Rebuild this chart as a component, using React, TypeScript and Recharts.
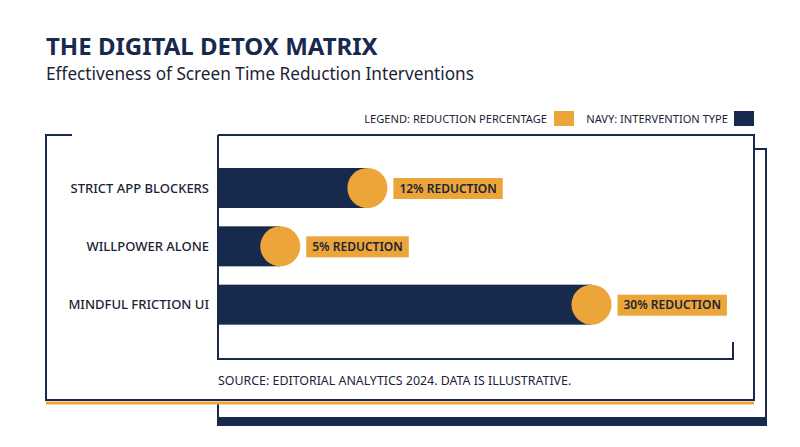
import React from 'react';
import { BarChart, Bar, XAxis, YAxis } from 'recharts';

const categories = ['STRICT APP BLOCKERS', 'WILLPOWER ALONE', 'MINDFUL FRICTION UI'];
const reductionValues = [12, 5, 30];
const reductionLabels = ['12% REDUCTION', '5% REDUCTION', '30% REDUCTION'];
const legendLabels = ['LEGEND: REDUCTION PERCENTAGE', 'NAVY: INTERVENTION TYPE'];

const NAVY = '#172a4e';
const ORANGE = '#eba539';
const INK = '#1b2336';
const FONT = "'Noto Sans', sans-serif";

const data = categories.map((name, i) => ({ name, value: reductionValues[i], label: reductionLabels[i] }));

let ctx: CanvasRenderingContext2D | null = null;
const measure = (text: string, font: string) => {
  if (!ctx) ctx = document.createElement('canvas').getContext('2d');
  if (!ctx) return text.length * 7;
  ctx.font = font;
  return ctx.measureText(text).width;
};

// navy bar with an orange dot at its end and a label chip
const PillBar = (props: any) => {
  const { x, y, width, height, payload } = props;
  const cy = y + height / 2;
  const r = height / 2;
  const endX = x + width;
  const textW = measure(payload.label, `600 12px ${FONT}`);
  const boxX = endX + r + 6;
  return (
    <g>
      <rect x={x} y={y} width={width} height={height} fill={NAVY} />
      <circle cx={endX} cy={cy} r={r} fill={ORANGE} />
      <rect x={boxX} y={cy - 10} width={textW + 12} height={21} fill={ORANGE} />
      <text x={boxX + 6} y={cy + 4.5} fontSize={12} fontWeight={600} fill={INK} fontFamily={FONT}>
        {payload.label}
      </text>
    </g>
  );
};

export default function App() {
  return (
    <div style={{ position: 'relative', width: 800, height: 447, margin: -8, background: '#fff' }}>
      <svg width={800} height={447} style={{ position: 'absolute', left: 0, top: 0 }}>
        <text x={46} y={55} fontSize={24} fontWeight={700} fill={NAVY} fontFamily={FONT}>THE DIGITAL DETOX MATRIX</text>
        <text x={46} y={80} fontSize={17.2} fill={INK} fontFamily={FONT}>Effectiveness of Screen Time Reduction Interventions</text>

        <text x={547} y={123} textAnchor="end" fontSize={11.1} fill={INK} fontFamily={FONT}>{legendLabels[0]}</text>
        <rect x={554} y={111} width={20} height={15} fill={ORANGE} />
        <text x={728} y={123} textAnchor="end" fontSize={11.1} fill={INK} fontFamily={FONT}>{legendLabels[1]}</text>
        <rect x={734} y={111} width={20} height={15} fill={NAVY} />

        {/* back frame */}
        <polyline points="754,149 766,149 766,426" fill="none" stroke={NAVY} strokeWidth={2} />
        <line x1={218} y1={404} x2={218} y2={426} stroke={NAVY} strokeWidth={2} />
        <rect x={218} y={417} width={549} height={9} fill={NAVY} />

        {/* front frame */}
        <line x1={46} y1={403} x2={754} y2={403} stroke={ORANGE} strokeWidth={3} />
        <polyline points="72,135 46,135 46,400 754,400 754,135 218,135" fill="none" stroke={NAVY} strokeWidth={2} />
        <polyline points="218,135 218,359 733,359 733,342" fill="none" stroke={NAVY} strokeWidth={2} />

        <text x={218} y={385} fontSize={12.4} fill={INK} fontFamily={FONT}>SOURCE: EDITORIAL ANALYTICS 2024. DATA IS ILLUSTRATIVE.</text>
      </svg>

      <div style={{ position: 'absolute', left: 0, top: 0 }}>
        <BarChart
          width={800}
          height={447}
          data={data}
          layout="vertical"
          margin={{ top: 159, right: 84, bottom: 113, left: 0 }}
        >
          <XAxis type="number" domain={[0, 40]} hide />
          <YAxis
            type="category"
            dataKey="name"
            width={218}
            axisLine={false}
            tickLine={false}
            tickMargin={3}
            tick={{ fill: INK, fontSize: 13, fontWeight: 500, fontFamily: FONT }}
          />
          <Bar dataKey="value" barSize={40} shape={<PillBar />} isAnimationActive={false} />
        </BarChart>
      </div>
    </div>
  );
}
